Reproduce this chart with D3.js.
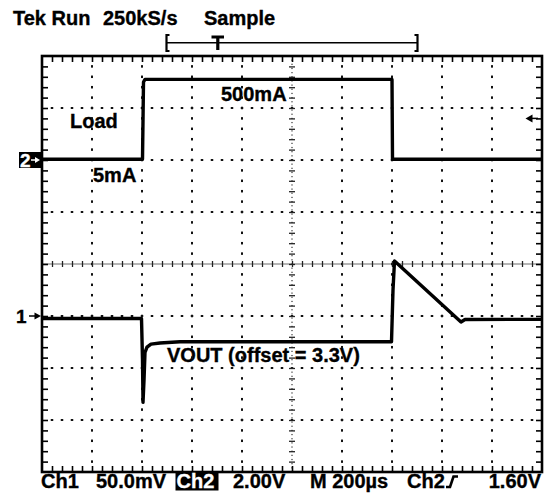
<!DOCTYPE html>
<html><head><meta charset="utf-8">
<script src="https://cdn.jsdelivr.net/npm/d3@7"></script>
<style>
body{margin:0;background:#fff}
svg{display:block}
text{font-family:"Liberation Sans",Arial,Helvetica,sans-serif;font-weight:bold;fill:#000;stroke:#000;stroke-width:0.35px}
text.inv{fill:#fff;stroke:#fff}
</style>
</head><body>
<svg id="c" width="552" height="497"></svg>
<script>
// ---- data ----
const timePerDiv = 200;          // µs / division (M 200µs)
const ch1PerDiv = 50;            // mV / division (Ch1 50.0mV)
const ch2PerDiv = 2;             // V / division (Ch2 2.00V)
const ch1Ref = -1;               // Ch1 ground marker, divisions from centre
const ch2Ref = 2;                // Ch2 ground marker, divisions from centre
const trigLevel = 1.6;           // V on Ch2
// Ch1: VOUT (offset 3.3V), time in µs from left edge, value in mV
const ch1Time  = [0, 398, 402, 404, 408, 412, 420, 436, 472, 552, 1398, 1404, 1410, 1676, 1692, 2000];
const ch1Value = [-2.4, -2.4, -42, -83, -62, -35, -30, -27, -26, -24.7, -24.7, 25, 53, -5.8, -3.4, -3.2];
// Ch2: load step, time in µs, value in V
const ch2Time  = [0, 402, 406, 412, 1400, 1402, 2000];
const ch2Value = [0.03, 0.03, 3.0, 3.1, 3.1, 0.03, 0.03];
const headerLabels = ["Tek Run", "250kS/s", "Sample"];
const footerLabels = ["Ch1", "50.0mV", "Ch2", "2.00V", "M 200µs", "Ch2", "1.60V"];
const traceLabels = ["Load", "5mA", "500mA", "VOUT (offset = 3.3V)"];

// ---- layout ----
const L = 42, R = 542, T = 56, B = 472;
const svg = d3.select("#c");
const x = d3.scaleLinear().domain([0, 10 * timePerDiv]).range([L, R]);
const y = d3.scaleLinear().domain([-4, 4]).range([B, T]);
const y1 = v => y(ch1Ref + v / ch1PerDiv);
const y2 = v => y(ch2Ref + v / ch2PerDiv);
const FS = 20;

function txt(s, px, py, opts = {}) {
  const t = svg.append("text").attr("x", px).attr("y", py).attr("font-size", opts.fs || FS).text(s);
  if (opts.anchor) t.attr("text-anchor", opts.anchor);
  if (opts.inv) t.attr("class", "inv");
  return t;
}

// header
txt(headerLabels[0], 13, 25);
txt(headerLabels[1], 103, 25);
txt(headerLabels[2], 204, 25);

// trace labels
txt(traceLabels[0], 70, 128);
txt(traceLabels[1], 93, 182);
txt(traceLabels[2], 221, 101);
txt(traceLabels[3], 167, 362);

// ---- graticule ----
const g = svg.append("g");
const minorX = d3.range(1, 50).map(i => i * timePerDiv / 5);
const minorY = d3.range(1, 40).map(i => -4 + i / 5);
const majorX = d3.range(1, 10).map(i => i * timePerDiv).filter(v => v !== 5 * timePerDiv);
const majorY = d3.range(-3, 4).filter(v => v !== 0);

// dotted grid lines
majorY.forEach(dv => {
  g.selectAll(null).data(minorX).enter().append("rect")
    .attr("x", d => x(d) - 1.25).attr("y", y(dv) - 1).attr("width", 2.5).attr("height", 2).attr("fill", "#111");
});
majorX.forEach(tv => {
  g.selectAll(null).data(minorY).enter().append("rect")
    .attr("x", x(tv) - 1).attr("y", d => y(d) - 1.25).attr("width", 2).attr("height", 2.5).attr("fill", "#111");
});
// centre lines: fine dots
const fineX = d3.range(0, 10 * timePerDiv, timePerDiv / 25);
const fineY = d3.range(-4, 4, 0.08);
g.selectAll(null).data(fineX).enter().append("rect")
  .attr("x", d => x(d) - 0.6).attr("y", y(0) - 0.6).attr("width", 1.2).attr("height", 1.2).attr("fill", "#333");
g.selectAll(null).data(fineY).enter().append("rect")
  .attr("x", x(5 * timePerDiv) - 0.6).attr("y", d => y(d) - 0.6).attr("width", 1.2).attr("height", 1.2).attr("fill", "#333");

// centre crosses via axes
function cleanAxis(sel) { sel.select(".domain").remove(); sel.selectAll("text").remove(); sel.selectAll("line").attr("stroke", "#222").attr("stroke-width", 1.3); }
g.append("g").attr("transform", `translate(0,${y(0)})`).call(d3.axisTop(x).tickValues(minorX).tickSize(3).tickFormat("")).call(cleanAxis);
g.append("g").attr("transform", `translate(0,${y(0)})`).call(d3.axisBottom(x).tickValues(minorX).tickSize(3).tickFormat("")).call(cleanAxis);
g.append("g").attr("transform", `translate(${x(5 * timePerDiv)},0)`).call(d3.axisLeft(y).tickValues(minorY).tickSize(3).tickFormat("")).call(cleanAxis);
g.append("g").attr("transform", `translate(${x(5 * timePerDiv)},0)`).call(d3.axisRight(y).tickValues(minorY).tickSize(3).tickFormat("")).call(cleanAxis);

// frame ticks
function frameAxis(sel) { sel.select(".domain").remove(); sel.selectAll("text").remove(); sel.selectAll("line").attr("stroke", "#000").attr("stroke-width", 1.6); }
g.append("g").attr("transform", `translate(0,${T})`).call(d3.axisBottom(x).tickValues(minorX).tickSize(6).tickFormat("")).call(frameAxis);
g.append("g").attr("transform", `translate(0,${B})`).call(d3.axisTop(x).tickValues(minorX).tickSize(6).tickFormat("")).call(frameAxis);
g.append("g").attr("transform", `translate(${L},0)`).call(d3.axisRight(y).tickValues(minorY).tickSize(6).tickFormat("")).call(frameAxis);
g.append("g").attr("transform", `translate(${R},0)`).call(d3.axisLeft(y).tickValues(minorY).tickSize(6).tickFormat("")).call(frameAxis);

// frame
svg.append("rect").attr("x", L).attr("y", T).attr("width", R - L).attr("height", B - T)
  .attr("fill", "none").attr("stroke", "#000").attr("stroke-width", 2.6);

// ---- traces ----
const line2 = d3.line().x(d => x(d[0])).y(d => y2(d[1]));
const line1 = d3.line().x(d => x(d[0])).y(d => y1(d[1]));
svg.append("path").attr("d", line2(d3.zip(ch2Time, ch2Value)))
  .attr("fill", "none").attr("stroke", "#000").attr("stroke-width", 3.4).attr("stroke-linejoin", "round");
svg.append("path").attr("d", line1(d3.zip(ch1Time, ch1Value)))
  .attr("fill", "none").attr("stroke", "#000").attr("stroke-width", 3.4).attr("stroke-linejoin", "round");

// ---- channel markers ----
const m2 = y2(0);
svg.append("rect").attr("x", 19).attr("y", m2 - 8).attr("width", 23).attr("height", 16).attr("fill", "#000");
txt("2", 20, m2 + 7, {fs: 19, inv: true});
svg.append("path").attr("d", `M31,${m2} L37,${m2}`).attr("stroke", "#fff").attr("stroke-width", 1.5);
svg.append("path").attr("d", `M35,${m2 - 3} L40,${m2} L35,${m2 + 3} Z`).attr("fill", "#fff");
const m1 = y1(0);
txt("1", 16, m1 + 7, {fs: 19});
svg.append("path").attr("d", `M29,${m1} L37,${m1}`).attr("stroke", "#000").attr("stroke-width", 1.5);
svg.append("path").attr("d", `M34.5,${m1 - 3.5} L41,${m1} L34.5,${m1 + 3.5} Z`).attr("fill", "#000");
const mt = y2(trigLevel);
svg.append("path").attr("d", `M531,${mt} L538,${mt}`).attr("stroke", "#000").attr("stroke-width", 1.5);
svg.append("path").attr("d", `M525.5,${mt} L532.5,${mt - 4} L532.5,${mt + 4} Z`).attr("fill", "#000");

// ---- record bar with trigger T ----
const barY = 42.7;
svg.append("line").attr("x1", 167).attr("x2", 417).attr("y1", barY).attr("y2", barY).attr("stroke", "#000").attr("stroke-width", 1.6);
svg.append("path").attr("d", `M169.5,35 L166.5,35 L166.5,51 L169.5,51`).attr("fill", "none").attr("stroke", "#000").attr("stroke-width", 2.2);
svg.append("path").attr("d", `M414.5,35 L417.5,35 L417.5,51 L414.5,51`).attr("fill", "none").attr("stroke", "#000").attr("stroke-width", 2.2);
svg.append("path").attr("d", `M211.5,37 L224,37 M217.8,37 L217.8,50`).attr("fill", "none").attr("stroke", "#000").attr("stroke-width", 3.2);

// ---- footer ----
const fy = 488;
txt(footerLabels[0], 41, fy);
txt(footerLabels[1], 96, fy);
svg.append("rect").attr("x", 175.5).attr("y", 472.5).attr("width", 43).attr("height", 18).attr("fill", "#000");
txt(footerLabels[2], 176.5, fy, {inv: true});
txt(footerLabels[3], 233, fy);
txt(footerLabels[4], 310, fy);
txt(footerLabels[5], 407, fy);
svg.append("path").attr("d", `M446,487 L450,487 L453.5,476.5 L458,476.5`).attr("fill", "none").attr("stroke", "#000").attr("stroke-width", 2.6);
txt(footerLabels[6], 541, fy, {anchor: "end"});
</script>
</body></html>
